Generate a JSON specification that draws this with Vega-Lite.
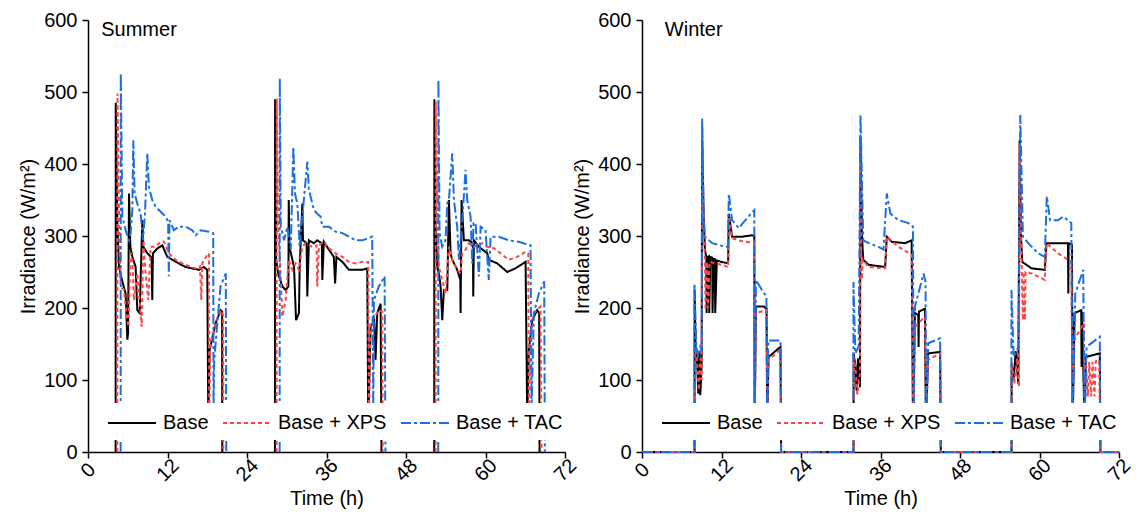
{
"$schema":"https://vega.github.io/schema/vega-lite/v6.json",
"background":"white",
"padding":{"left":18,"top":10,"right":5,"bottom":5},
"spacing":77,
"bounds":"flush",
"config":{
"view":{"stroke":null},
"font":"Liberation Sans",
"axis":{"domainColor":"black","domainWidth":1.5,"tickColor":"black","tickWidth":1.5,"labelColor":"black","labelFontSize":20,"titleFontSize":20,"titleFontWeight":"normal","titleColor":"black","grid":false,"labelFont":"Liberation Sans","titleFont":"Liberation Sans"},
"legend":{"orient":"bottom-left","direction":"horizontal","offset":12,"padding":7,"fillColor":"white","symbolType":"M-1,0H3","symbolSize":576,"symbolStrokeWidth":2,"labelFontSize":20,"labelFont":"Liberation Sans","labelColor":"black","labelOffset":30,"columnPadding":10,"title":null,"zindex":1}
},
"resolve":{"scale":{"color":"independent","strokeDash":"independent"},"legend":{"color":"independent","strokeDash":"independent"}},
"hconcat":[
{"width":477,"height":432,
"layer":[
{"data":{"name":"summer"},"mark":{"type":"line","strokeWidth":2},
"encoding":{
"x":{"field":"t","type":"quantitative","scale":{"domain":[0,72],"nice":false},"axis":{"values":[0,3,6,9,12,15,18,21,24,27,30,33,36,39,42,45,48,51,54,57,60,63,66,69,72],"labelExpr":"datum.value % 12 === 0 ? datum.label : ''","tickSize":{"condition":{"test":"datum.value % 12 === 0","value":6},"value":3},"labelAngle":-45,"labelAlign":"center","labelBaseline":"middle","labelPadding":12,"labelOverlap":false,"labelFlush":false,"title":"Time (h)","titlePadding":4}},
"y":{"field":"v","type":"quantitative","scale":{"domain":[0,600],"nice":false},"axis":{"values":[0,50,100,150,200,250,300,350,400,450,500,550,600],"labelExpr":"datum.value % 100 === 0 ? datum.label : ''","tickSize":{"condition":{"test":"datum.value % 100 === 0","value":6},"value":3},"labelPadding":5,"labelOverlap":false,"labelFlush":false,"title":"Irradiance (W/m²)","titlePadding":5}},
"color":{"field":"series","type":"nominal","scale":{"domain":["Base","Base + XPS","Base + TAC"],"range":["#000000","#FF4646","#1C6FE0"]}},
"strokeDash":{"field":"series","type":"nominal","scale":{"domain":["Base","Base + XPS","Base + TAC"],"range":[[1,0],[4,3],[10,3,3,3]]}},
"detail":{"field":"day","type":"nominal"}
}},
{"data":{"values":[{"label":"Summer"}]},"mark":{"type":"text","align":"left","baseline":"middle","fontSize":20,"font":"Liberation Sans","color":"black"},
"encoding":{"x":{"datum":2.0,"type":"quantitative"},"y":{"datum":586,"type":"quantitative"},"text":{"field":"label"}}}
]},
{"width":477,"height":432,
"layer":[
{"data":{"name":"winter"},"mark":{"type":"line","strokeWidth":2},
"encoding":{
"x":{"field":"t","type":"quantitative","scale":{"domain":[0,72],"nice":false},"axis":{"values":[0,3,6,9,12,15,18,21,24,27,30,33,36,39,42,45,48,51,54,57,60,63,66,69,72],"labelExpr":"datum.value % 12 === 0 ? datum.label : ''","tickSize":{"condition":{"test":"datum.value % 12 === 0","value":6},"value":3},"labelAngle":-45,"labelAlign":"center","labelBaseline":"middle","labelPadding":12,"labelOverlap":false,"labelFlush":false,"title":"Time (h)","titlePadding":4}},
"y":{"field":"v","type":"quantitative","scale":{"domain":[0,600],"nice":false},"axis":{"values":[0,50,100,150,200,250,300,350,400,450,500,550,600],"labelExpr":"datum.value % 100 === 0 ? datum.label : ''","tickSize":{"condition":{"test":"datum.value % 100 === 0","value":6},"value":3},"labelPadding":5,"labelOverlap":false,"labelFlush":false,"title":"Irradiance (W/m²)","titlePadding":5}},
"color":{"field":"series","type":"nominal","scale":{"domain":["Base","Base + XPS","Base + TAC"],"range":["#000000","#FF4646","#1C6FE0"]}},
"strokeDash":{"field":"series","type":"nominal","scale":{"domain":["Base","Base + XPS","Base + TAC"],"range":[[1,0],[4,3],[10,3,3,3]]}}
}},
{"data":{"values":[{"label":"Winter"}]},"mark":{"type":"text","align":"left","baseline":"middle","fontSize":20,"font":"Liberation Sans","color":"black"},
"encoding":{"x":{"datum":3.45,"type":"quantitative"},"y":{"datum":586,"type":"quantitative"},"text":{"field":"label"}}}
]}
],
"datasets":{
"summer":[
{"series":"Base","day":1,"t":4.17,"v":0},{"series":"Base","day":1,"t":4.19,"v":485},{"series":"Base","day":1,"t":4.43,"v":313},{"series":"Base","day":1,"t":4.68,"v":257},{"series":"Base","day":1,"t":5.18,"v":237},{"series":"Base","day":1,"t":5.68,"v":220},{"series":"Base","day":1,"t":5.94,"v":156},{"series":"Base","day":1,"t":6.05,"v":165},{"series":"Base","day":1,"t":6.19,"v":359},{"series":"Base","day":1,"t":6.39,"v":285},{"series":"Base","day":1,"t":6.69,"v":271},{"series":"Base","day":1,"t":7.19,"v":257},{"series":"Base","day":1,"t":7.44,"v":197},{"series":"Base","day":1,"t":7.8,"v":193},{"series":"Base","day":1,"t":8.2,"v":322},{"series":"Base","day":1,"t":8.35,"v":285},{"series":"Base","day":1,"t":8.95,"v":276},{"series":"Base","day":1,"t":9.6,"v":270},{"series":"Base","day":1,"t":9.7,"v":211},{"series":"Base","day":1,"t":9.8,"v":276},{"series":"Base","day":1,"t":10.5,"v":283},{"series":"Base","day":1,"t":11.22,"v":287},{"series":"Base","day":1,"t":11.97,"v":271},{"series":"Base","day":1,"t":12.73,"v":267},{"series":"Base","day":1,"t":13.7,"v":262},{"series":"Base","day":1,"t":14.7,"v":257},{"series":"Base","day":1,"t":15.7,"v":255},{"series":"Base","day":1,"t":16.75,"v":253},{"series":"Base","day":1,"t":17.5,"v":257},{"series":"Base","day":1,"t":18.0,"v":253},{"series":"Base","day":1,"t":18.16,"v":45},{"series":"Base","day":1,"t":18.36,"v":142},{"series":"Base","day":1,"t":19.27,"v":179},{"series":"Base","day":1,"t":20.02,"v":197},{"series":"Base","day":1,"t":20.25,"v":195},{"series":"Base","day":1,"t":20.27,"v":0},
{"series":"Base + XPS","day":1,"t":4.43,"v":0},{"series":"Base + XPS","day":1,"t":4.45,"v":498},{"series":"Base + XPS","day":1,"t":4.68,"v":336},{"series":"Base + XPS","day":1,"t":4.93,"v":230},{"series":"Base + XPS","day":1,"t":5.43,"v":225},{"series":"Base + XPS","day":1,"t":5.78,"v":193},{"series":"Base + XPS","day":1,"t":6.09,"v":174},{"series":"Base + XPS","day":1,"t":6.44,"v":276},{"series":"Base + XPS","day":1,"t":6.69,"v":267},{"series":"Base + XPS","day":1,"t":6.94,"v":211},{"series":"Base + XPS","day":1,"t":7.44,"v":248},{"series":"Base + XPS","day":1,"t":7.7,"v":220},{"series":"Base + XPS","day":1,"t":8.1,"v":174},{"series":"Base + XPS","day":1,"t":8.35,"v":294},{"series":"Base + XPS","day":1,"t":8.7,"v":248},{"series":"Base + XPS","day":1,"t":9.1,"v":211},{"series":"Base + XPS","day":1,"t":9.46,"v":285},{"series":"Base + XPS","day":1,"t":10.2,"v":285},{"series":"Base + XPS","day":1,"t":10.97,"v":292},{"series":"Base + XPS","day":1,"t":11.47,"v":292},{"series":"Base + XPS","day":1,"t":12.2,"v":276},{"series":"Base + XPS","day":1,"t":13.2,"v":267},{"series":"Base + XPS","day":1,"t":14.7,"v":260},{"series":"Base + XPS","day":1,"t":16.25,"v":255},{"series":"Base + XPS","day":1,"t":16.9,"v":258},{"series":"Base + XPS","day":1,"t":17.1,"v":211},{"series":"Base + XPS","day":1,"t":17.25,"v":262},{"series":"Base + XPS","day":1,"t":18.0,"v":274},{"series":"Base + XPS","day":1,"t":18.26,"v":276},{"series":"Base + XPS","day":1,"t":18.3,"v":40},{"series":"Base + XPS","day":1,"t":18.45,"v":150},{"series":"Base + XPS","day":1,"t":19.5,"v":185},{"series":"Base + XPS","day":1,"t":20.1,"v":197},{"series":"Base + XPS","day":1,"t":20.4,"v":190},{"series":"Base + XPS","day":1,"t":20.42,"v":0},
{"series":"Base + TAC","day":1,"t":4.93,"v":0},{"series":"Base + TAC","day":1,"t":4.95,"v":526},{"series":"Base + TAC","day":1,"t":5.18,"v":327},{"series":"Base + TAC","day":1,"t":5.68,"v":308},{"series":"Base + TAC","day":1,"t":6.19,"v":294},{"series":"Base + TAC","day":1,"t":6.44,"v":304},{"series":"Base + TAC","day":1,"t":6.69,"v":336},{"series":"Base + TAC","day":1,"t":6.84,"v":433},{"series":"Base + TAC","day":1,"t":7.04,"v":359},{"series":"Base + TAC","day":1,"t":7.44,"v":345},{"series":"Base + TAC","day":1,"t":7.95,"v":331},{"series":"Base + TAC","day":1,"t":8.3,"v":294},{"series":"Base + TAC","day":1,"t":8.6,"v":331},{"series":"Base + TAC","day":1,"t":8.95,"v":415},{"series":"Base + TAC","day":1,"t":9.2,"v":368},{"series":"Base + TAC","day":1,"t":9.7,"v":350},{"series":"Base + TAC","day":1,"t":10.2,"v":341},{"series":"Base + TAC","day":1,"t":10.7,"v":336},{"series":"Base + TAC","day":1,"t":11.7,"v":327},{"series":"Base + TAC","day":1,"t":12.1,"v":320},{"series":"Base + TAC","day":1,"t":12.2,"v":244},{"series":"Base + TAC","day":1,"t":12.3,"v":322},{"series":"Base + TAC","day":1,"t":12.98,"v":308},{"series":"Base + TAC","day":1,"t":13.7,"v":313},{"series":"Base + TAC","day":1,"t":14.7,"v":313},{"series":"Base + TAC","day":1,"t":15.75,"v":308},{"series":"Base + TAC","day":1,"t":16.25,"v":301},{"series":"Base + TAC","day":1,"t":17.0,"v":308},{"series":"Base + TAC","day":1,"t":18.26,"v":306},{"series":"Base + TAC","day":1,"t":18.9,"v":304},{"series":"Base + TAC","day":1,"t":18.95,"v":60},{"series":"Base + TAC","day":1,"t":19.05,"v":128},{"series":"Base + TAC","day":1,"t":20.0,"v":230},{"series":"Base + TAC","day":1,"t":20.8,"v":248},{"series":"Base + TAC","day":1,"t":20.87,"v":0},
{"series":"Base","day":2,"t":28.22,"v":0},{"series":"Base","day":2,"t":28.24,"v":490},{"series":"Base","day":2,"t":28.4,"v":267},{"series":"Base","day":2,"t":28.7,"v":248},{"series":"Base","day":2,"t":29.33,"v":230},{"series":"Base","day":2,"t":29.83,"v":225},{"series":"Base","day":2,"t":30.25,"v":230},{"series":"Base","day":2,"t":30.3,"v":350},{"series":"Base","day":2,"t":30.4,"v":285},{"series":"Base","day":2,"t":31.1,"v":257},{"series":"Base","day":2,"t":31.4,"v":183},{"series":"Base","day":2,"t":31.84,"v":193},{"series":"Base","day":2,"t":31.95,"v":257},{"series":"Base","day":2,"t":32.35,"v":345},{"series":"Base","day":2,"t":32.45,"v":294},{"series":"Base","day":2,"t":33.0,"v":290},{"series":"Base","day":2,"t":33.1,"v":216},{"series":"Base","day":2,"t":33.35,"v":294},{"series":"Base","day":2,"t":34.1,"v":290},{"series":"Base","day":2,"t":34.6,"v":294},{"series":"Base","day":2,"t":35.3,"v":290},{"series":"Base","day":2,"t":35.37,"v":239},{"series":"Base","day":2,"t":35.6,"v":292},{"series":"Base","day":2,"t":36.37,"v":281},{"series":"Base","day":2,"t":37.1,"v":271},{"series":"Base","day":2,"t":37.3,"v":234},{"series":"Base","day":2,"t":37.5,"v":271},{"series":"Base","day":2,"t":38.4,"v":264},{"series":"Base","day":2,"t":39.4,"v":253},{"series":"Base","day":2,"t":40.4,"v":253},{"series":"Base","day":2,"t":41.4,"v":253},{"series":"Base","day":2,"t":42.15,"v":255},{"series":"Base","day":2,"t":42.3,"v":40},{"series":"Base","day":2,"t":42.66,"v":174},{"series":"Base","day":2,"t":43.2,"v":183},{"series":"Base","day":2,"t":43.4,"v":128},{"series":"Base","day":2,"t":43.66,"v":193},{"series":"Base","day":2,"t":44.17,"v":206},{"series":"Base","day":2,"t":44.3,"v":0},
{"series":"Base + XPS","day":2,"t":28.47,"v":0},{"series":"Base + XPS","day":2,"t":28.49,"v":491},{"series":"Base + XPS","day":2,"t":28.7,"v":313},{"series":"Base + XPS","day":2,"t":29.08,"v":244},{"series":"Base + XPS","day":2,"t":29.33,"v":188},{"series":"Base + XPS","day":2,"t":29.83,"v":211},{"series":"Base + XPS","day":2,"t":30.3,"v":267},{"series":"Base + XPS","day":2,"t":30.84,"v":253},{"series":"Base + XPS","day":2,"t":31.34,"v":262},{"series":"Base + XPS","day":2,"t":31.84,"v":253},{"series":"Base + XPS","day":2,"t":32.35,"v":285},{"series":"Base + XPS","day":2,"t":32.85,"v":290},{"series":"Base + XPS","day":2,"t":33.85,"v":285},{"series":"Base + XPS","day":2,"t":34.5,"v":287},{"series":"Base + XPS","day":2,"t":34.6,"v":230},{"series":"Base + XPS","day":2,"t":34.86,"v":287},{"series":"Base + XPS","day":2,"t":35.6,"v":292},{"series":"Base + XPS","day":2,"t":36.37,"v":283},{"series":"Base + XPS","day":2,"t":37.38,"v":276},{"series":"Base + XPS","day":2,"t":38.4,"v":271},{"series":"Base + XPS","day":2,"t":39.4,"v":264},{"series":"Base + XPS","day":2,"t":40.4,"v":262},{"series":"Base + XPS","day":2,"t":41.4,"v":264},{"series":"Base + XPS","day":2,"t":42.3,"v":264},{"series":"Base + XPS","day":2,"t":42.4,"v":40},{"series":"Base + XPS","day":2,"t":42.66,"v":179},{"series":"Base + XPS","day":2,"t":43.9,"v":197},{"series":"Base + XPS","day":2,"t":44.4,"v":195},{"series":"Base + XPS","day":2,"t":44.5,"v":0},
{"series":"Base + TAC","day":2,"t":28.93,"v":0},{"series":"Base + TAC","day":2,"t":28.95,"v":519},{"series":"Base + TAC","day":2,"t":29.1,"v":313},{"series":"Base + TAC","day":2,"t":29.6,"v":294},{"series":"Base + TAC","day":2,"t":30.1,"v":313},{"series":"Base + TAC","day":2,"t":30.6,"v":281},{"series":"Base + TAC","day":2,"t":31.0,"v":424},{"series":"Base + TAC","day":2,"t":31.24,"v":359},{"series":"Base + TAC","day":2,"t":31.6,"v":345},{"series":"Base + TAC","day":2,"t":31.95,"v":285},{"series":"Base + TAC","day":2,"t":32.35,"v":327},{"series":"Base + TAC","day":2,"t":33.1,"v":403},{"series":"Base + TAC","day":2,"t":33.35,"v":364},{"series":"Base + TAC","day":2,"t":34.1,"v":336},{"series":"Base + TAC","day":2,"t":34.6,"v":331},{"series":"Base + TAC","day":2,"t":35.1,"v":327},{"series":"Base + TAC","day":2,"t":35.37,"v":313},{"series":"Base + TAC","day":2,"t":36.37,"v":313},{"series":"Base + TAC","day":2,"t":37.38,"v":306},{"series":"Base + TAC","day":2,"t":38.4,"v":304},{"series":"Base + TAC","day":2,"t":39.4,"v":299},{"series":"Base + TAC","day":2,"t":40.4,"v":294},{"series":"Base + TAC","day":2,"t":41.4,"v":294},{"series":"Base + TAC","day":2,"t":42.9,"v":299},{"series":"Base + TAC","day":2,"t":43.06,"v":60},{"series":"Base + TAC","day":2,"t":43.16,"v":211},{"series":"Base + TAC","day":2,"t":43.9,"v":230},{"series":"Base + TAC","day":2,"t":44.77,"v":244},{"series":"Base + TAC","day":2,"t":44.9,"v":0},
{"series":"Base","day":3,"t":52.26,"v":0},{"series":"Base","day":3,"t":52.28,"v":490},{"series":"Base","day":3,"t":52.47,"v":313},{"series":"Base","day":3,"t":52.72,"v":257},{"series":"Base","day":3,"t":52.97,"v":248},{"series":"Base","day":3,"t":53.22,"v":230},{"series":"Base","day":3,"t":53.47,"v":183},{"series":"Base","day":3,"t":53.72,"v":225},{"series":"Base","day":3,"t":54.23,"v":225},{"series":"Base","day":3,"t":54.48,"v":350},{"series":"Base","day":3,"t":54.73,"v":276},{"series":"Base","day":3,"t":54.98,"v":267},{"series":"Base","day":3,"t":55.73,"v":253},{"series":"Base","day":3,"t":56.2,"v":239},{"series":"Base","day":3,"t":56.24,"v":193},{"series":"Base","day":3,"t":56.39,"v":350},{"series":"Base","day":3,"t":56.74,"v":294},{"series":"Base","day":3,"t":57.5,"v":294},{"series":"Base","day":3,"t":58.1,"v":290},{"series":"Base","day":3,"t":58.15,"v":216},{"series":"Base","day":3,"t":58.25,"v":294},{"series":"Base","day":3,"t":59.0,"v":285},{"series":"Base","day":3,"t":60.26,"v":276},{"series":"Base","day":3,"t":60.5,"v":267},{"series":"Base","day":3,"t":61.77,"v":262},{"series":"Base","day":3,"t":63.28,"v":250},{"series":"Base","day":3,"t":64.5,"v":255},{"series":"Base","day":3,"t":66.05,"v":264},{"series":"Base","day":3,"t":66.3,"v":45},{"series":"Base","day":3,"t":66.55,"v":142},{"series":"Base","day":3,"t":67.05,"v":183},{"series":"Base","day":3,"t":67.8,"v":197},{"series":"Base","day":3,"t":68.1,"v":193},{"series":"Base","day":3,"t":68.16,"v":0},
{"series":"Base + XPS","day":3,"t":52.47,"v":0},{"series":"Base + XPS","day":3,"t":52.49,"v":487},{"series":"Base + XPS","day":3,"t":52.72,"v":336},{"series":"Base + XPS","day":3,"t":52.97,"v":257},{"series":"Base + XPS","day":3,"t":53.47,"v":239},{"series":"Base + XPS","day":3,"t":53.97,"v":220},{"series":"Base + XPS","day":3,"t":54.48,"v":285},{"series":"Base + XPS","day":3,"t":54.98,"v":267},{"series":"Base + XPS","day":3,"t":55.73,"v":253},{"series":"Base + XPS","day":3,"t":56.24,"v":248},{"series":"Base + XPS","day":3,"t":56.5,"v":276},{"series":"Base + XPS","day":3,"t":57.0,"v":281},{"series":"Base + XPS","day":3,"t":57.5,"v":290},{"series":"Base + XPS","day":3,"t":58.25,"v":285},{"series":"Base + XPS","day":3,"t":59.5,"v":290},{"series":"Base + XPS","day":3,"t":60.26,"v":285},{"series":"Base + XPS","day":3,"t":61.27,"v":283},{"series":"Base + XPS","day":3,"t":62.27,"v":276},{"series":"Base + XPS","day":3,"t":63.5,"v":267},{"series":"Base + XPS","day":3,"t":64.8,"v":271},{"series":"Base + XPS","day":3,"t":66.05,"v":278},{"series":"Base + XPS","day":3,"t":66.45,"v":276},{"series":"Base + XPS","day":3,"t":66.55,"v":40},{"series":"Base + XPS","day":3,"t":66.8,"v":151},{"series":"Base + XPS","day":3,"t":67.3,"v":193},{"series":"Base + XPS","day":3,"t":68.3,"v":202},{"series":"Base + XPS","day":3,"t":68.46,"v":0},
{"series":"Base + TAC","day":3,"t":52.87,"v":0},{"series":"Base + TAC","day":3,"t":52.89,"v":517},{"series":"Base + TAC","day":3,"t":53.07,"v":304},{"series":"Base + TAC","day":3,"t":53.47,"v":285},{"series":"Base + TAC","day":3,"t":53.97,"v":294},{"series":"Base + TAC","day":3,"t":54.22,"v":345},{"series":"Base + TAC","day":3,"t":54.48,"v":350},{"series":"Base + TAC","day":3,"t":54.98,"v":415},{"series":"Base + TAC","day":3,"t":55.23,"v":350},{"series":"Base + TAC","day":3,"t":55.73,"v":313},{"series":"Base + TAC","day":3,"t":55.99,"v":267},{"series":"Base + TAC","day":3,"t":56.5,"v":322},{"series":"Base + TAC","day":3,"t":56.99,"v":392},{"series":"Base + TAC","day":3,"t":57.24,"v":350},{"series":"Base + TAC","day":3,"t":57.75,"v":327},{"series":"Base + TAC","day":3,"t":58.0,"v":262},{"series":"Base + TAC","day":3,"t":58.2,"v":318},{"series":"Base + TAC","day":3,"t":58.5,"v":318},{"series":"Base + TAC","day":3,"t":59.0,"v":244},{"series":"Base + TAC","day":3,"t":59.26,"v":313},{"series":"Base + TAC","day":3,"t":60.0,"v":308},{"series":"Base + TAC","day":3,"t":60.5,"v":239},{"series":"Base + TAC","day":3,"t":60.77,"v":299},{"series":"Base + TAC","day":3,"t":62.0,"v":299},{"series":"Base + TAC","day":3,"t":63.5,"v":294},{"series":"Base + TAC","day":3,"t":65.0,"v":292},{"series":"Base + TAC","day":3,"t":66.8,"v":287},{"series":"Base + TAC","day":3,"t":66.95,"v":60},{"series":"Base + TAC","day":3,"t":67.3,"v":193},{"series":"Base + TAC","day":3,"t":68.06,"v":220},{"series":"Base + TAC","day":3,"t":68.86,"v":237},{"series":"Base + TAC","day":3,"t":68.96,"v":0}
],
"winter":[
{"series":"Base","t":0,"v":0},{"series":"Base","t":7.93,"v":0},{"series":"Base","t":7.95,"v":225},{"series":"Base","t":8.1,"v":137},{"series":"Base","t":8.3,"v":130},{"series":"Base","t":8.5,"v":81},{"series":"Base","t":8.65,"v":140},{"series":"Base","t":8.8,"v":79},{"series":"Base","t":9.0,"v":120},{"series":"Base","t":9.08,"v":433},{"series":"Base","t":9.3,"v":330},{"series":"Base","t":9.5,"v":281},{"series":"Base","t":9.7,"v":271},{"series":"Base","t":9.75,"v":193},{"series":"Base","t":9.9,"v":271},{"series":"Base","t":10.1,"v":272},{"series":"Base","t":10.15,"v":193},{"series":"Base","t":10.3,"v":271},{"series":"Base","t":10.6,"v":270},{"series":"Base","t":10.65,"v":193},{"series":"Base","t":10.8,"v":268},{"series":"Base","t":11.0,"v":268},{"series":"Base","t":11.05,"v":193},{"series":"Base","t":11.3,"v":266},{"series":"Base","t":12.0,"v":264},{"series":"Base","t":13.0,"v":262},{"series":"Base","t":13.1,"v":331},{"series":"Base","t":13.6,"v":299},{"series":"Base","t":15.1,"v":299},{"series":"Base","t":16.6,"v":301},{"series":"Base","t":16.95,"v":300},{"series":"Base","t":17.0,"v":40},{"series":"Base","t":17.2,"v":202},{"series":"Base","t":18.4,"v":202},{"series":"Base","t":18.8,"v":199},{"series":"Base","t":18.9,"v":40},{"series":"Base","t":19.1,"v":132},{"series":"Base","t":20.9,"v":146},{"series":"Base","t":21.0,"v":0},{"series":"Base","t":31.93,"v":0},{"series":"Base","t":31.95,"v":137},{"series":"Base","t":32.2,"v":120},{"series":"Base","t":32.4,"v":85},{"series":"Base","t":32.6,"v":130},{"series":"Base","t":32.9,"v":90},{"series":"Base","t":32.98,"v":438},{"series":"Base","t":33.2,"v":300},{"series":"Base","t":33.4,"v":267},{"series":"Base","t":34.2,"v":260},{"series":"Base","t":36.7,"v":257},{"series":"Base","t":36.95,"v":299},{"series":"Base","t":37.7,"v":292},{"series":"Base","t":39.7,"v":290},{"series":"Base","t":40.7,"v":294},{"series":"Base","t":40.9,"v":40},{"series":"Base","t":41.2,"v":193},{"series":"Base","t":41.7,"v":190},{"series":"Base","t":41.75,"v":146},{"series":"Base","t":41.8,"v":195},{"series":"Base","t":42.7,"v":199},{"series":"Base","t":42.85,"v":40},{"series":"Base","t":43.2,"v":137},{"series":"Base","t":45.0,"v":139},{"series":"Base","t":45.1,"v":0},{"series":"Base","t":55.78,"v":0},{"series":"Base","t":55.8,"v":123},{"series":"Base","t":56.1,"v":100},{"series":"Base","t":56.4,"v":140},{"series":"Base","t":56.8,"v":95},{"series":"Base","t":57.0,"v":433},{"series":"Base","t":57.2,"v":300},{"series":"Base","t":57.4,"v":264},{"series":"Base","t":58.8,"v":255},{"series":"Base","t":60.8,"v":253},{"series":"Base","t":61.05,"v":290},{"series":"Base","t":64.3,"v":290},{"series":"Base","t":64.35,"v":220},{"series":"Base","t":64.4,"v":290},{"series":"Base","t":64.9,"v":288},{"series":"Base","t":65.0,"v":40},{"series":"Base","t":65.3,"v":193},{"series":"Base","t":66.3,"v":197},{"series":"Base","t":66.35,"v":118},{"series":"Base","t":66.4,"v":195},{"series":"Base","t":66.8,"v":40},{"series":"Base","t":67.0,"v":132},{"series":"Base","t":69.1,"v":137},{"series":"Base","t":69.2,"v":0},{"series":"Base","t":72,"v":0},
{"series":"Base + XPS","t":0,"v":0},{"series":"Base + XPS","t":7.95,"v":0},{"series":"Base + XPS","t":7.97,"v":146},{"series":"Base + XPS","t":8.3,"v":128},{"series":"Base + XPS","t":8.6,"v":86},{"series":"Base + XPS","t":8.8,"v":130},{"series":"Base + XPS","t":9.0,"v":100},{"series":"Base + XPS","t":9.08,"v":452},{"series":"Base + XPS","t":9.3,"v":320},{"series":"Base + XPS","t":9.5,"v":267},{"series":"Base + XPS","t":9.6,"v":197},{"series":"Base + XPS","t":9.8,"v":264},{"series":"Base + XPS","t":10.0,"v":200},{"series":"Base + XPS","t":10.2,"v":264},{"series":"Base + XPS","t":12.0,"v":260},{"series":"Base + XPS","t":13.0,"v":257},{"series":"Base + XPS","t":13.1,"v":327},{"series":"Base + XPS","t":13.6,"v":297},{"series":"Base + XPS","t":15.0,"v":293},{"series":"Base + XPS","t":16.9,"v":290},{"series":"Base + XPS","t":17.02,"v":40},{"series":"Base + XPS","t":17.2,"v":193},{"series":"Base + XPS","t":18.8,"v":197},{"series":"Base + XPS","t":18.92,"v":40},{"series":"Base + XPS","t":19.1,"v":128},{"series":"Base + XPS","t":20.9,"v":142},{"series":"Base + XPS","t":21.02,"v":0},{"series":"Base + XPS","t":31.95,"v":0},{"series":"Base + XPS","t":31.97,"v":132},{"series":"Base + XPS","t":32.3,"v":110},{"series":"Base + XPS","t":32.5,"v":80},{"series":"Base + XPS","t":32.9,"v":110},{"series":"Base + XPS","t":32.98,"v":433},{"series":"Base + XPS","t":33.1,"v":267},{"series":"Base + XPS","t":33.2,"v":240},{"series":"Base + XPS","t":33.3,"v":267},{"series":"Base + XPS","t":34.2,"v":257},{"series":"Base + XPS","t":36.7,"v":255},{"series":"Base + XPS","t":36.95,"v":299},{"series":"Base + XPS","t":38.7,"v":285},{"series":"Base + XPS","t":40.7,"v":274},{"series":"Base + XPS","t":40.95,"v":40},{"series":"Base + XPS","t":41.2,"v":174},{"series":"Base + XPS","t":42.7,"v":188},{"series":"Base + XPS","t":42.9,"v":40},{"series":"Base + XPS","t":43.2,"v":128},{"series":"Base + XPS","t":45.0,"v":137},{"series":"Base + XPS","t":45.12,"v":0},{"series":"Base + XPS","t":55.8,"v":0},{"series":"Base + XPS","t":55.82,"v":123},{"series":"Base + XPS","t":56.2,"v":95},{"series":"Base + XPS","t":56.6,"v":130},{"series":"Base + XPS","t":56.9,"v":90},{"series":"Base + XPS","t":57.0,"v":429},{"series":"Base + XPS","t":57.3,"v":257},{"series":"Base + XPS","t":57.5,"v":183},{"series":"Base + XPS","t":57.6,"v":250},{"series":"Base + XPS","t":57.8,"v":183},{"series":"Base + XPS","t":57.9,"v":250},{"series":"Base + XPS","t":58.8,"v":248},{"series":"Base + XPS","t":60.8,"v":239},{"series":"Base + XPS","t":61.05,"v":290},{"series":"Base + XPS","t":62.8,"v":276},{"series":"Base + XPS","t":64.8,"v":264},{"series":"Base + XPS","t":65.0,"v":40},{"series":"Base + XPS","t":65.2,"v":155},{"series":"Base + XPS","t":66.7,"v":179},{"series":"Base + XPS","t":66.82,"v":40},{"series":"Base + XPS","t":67.0,"v":123},{"series":"Base + XPS","t":67.3,"v":77},{"series":"Base + XPS","t":67.5,"v":125},{"series":"Base + XPS","t":67.8,"v":77},{"series":"Base + XPS","t":68.0,"v":125},{"series":"Base + XPS","t":68.3,"v":77},{"series":"Base + XPS","t":68.5,"v":126},{"series":"Base + XPS","t":69.0,"v":128},{"series":"Base + XPS","t":69.18,"v":0},{"series":"Base + XPS","t":72,"v":0},
{"series":"Base + TAC","t":0,"v":0},{"series":"Base + TAC","t":7.9,"v":0},{"series":"Base + TAC","t":7.92,"v":234},{"series":"Base + TAC","t":8.2,"v":146},{"series":"Base + TAC","t":8.5,"v":132},{"series":"Base + TAC","t":8.8,"v":146},{"series":"Base + TAC","t":9.05,"v":140},{"series":"Base + TAC","t":9.08,"v":463},{"series":"Base + TAC","t":9.3,"v":330},{"series":"Base + TAC","t":9.5,"v":299},{"series":"Base + TAC","t":10.6,"v":290},{"series":"Base + TAC","t":12.6,"v":285},{"series":"Base + TAC","t":13.0,"v":285},{"series":"Base + TAC","t":13.1,"v":359},{"series":"Base + TAC","t":13.6,"v":322},{"series":"Base + TAC","t":14.6,"v":311},{"series":"Base + TAC","t":15.6,"v":322},{"series":"Base + TAC","t":16.95,"v":336},{"series":"Base + TAC","t":17.0,"v":40},{"series":"Base + TAC","t":17.2,"v":239},{"series":"Base + TAC","t":18.1,"v":225},{"series":"Base + TAC","t":18.78,"v":216},{"series":"Base + TAC","t":18.88,"v":40},{"series":"Base + TAC","t":19.05,"v":155},{"series":"Base + TAC","t":20.9,"v":155},{"series":"Base + TAC","t":20.98,"v":0},{"series":"Base + TAC","t":31.9,"v":0},{"series":"Base + TAC","t":31.92,"v":236},{"series":"Base + TAC","t":32.2,"v":137},{"series":"Base + TAC","t":32.7,"v":146},{"series":"Base + TAC","t":32.98,"v":468},{"series":"Base + TAC","t":33.4,"v":294},{"series":"Base + TAC","t":34.2,"v":290},{"series":"Base + TAC","t":35.7,"v":285},{"series":"Base + TAC","t":36.45,"v":281},{"series":"Base + TAC","t":36.95,"v":359},{"series":"Base + TAC","t":37.5,"v":331},{"series":"Base + TAC","t":38.7,"v":322},{"series":"Base + TAC","t":40.2,"v":318},{"series":"Base + TAC","t":40.9,"v":313},{"series":"Base + TAC","t":41.0,"v":40},{"series":"Base + TAC","t":41.2,"v":202},{"series":"Base + TAC","t":42.5,"v":248},{"series":"Base + TAC","t":42.8,"v":236},{"series":"Base + TAC","t":42.9,"v":40},{"series":"Base + TAC","t":43.2,"v":151},{"series":"Base + TAC","t":45.0,"v":158},{"series":"Base + TAC","t":45.08,"v":0},{"series":"Base + TAC","t":55.75,"v":0},{"series":"Base + TAC","t":55.77,"v":225},{"series":"Base + TAC","t":56.1,"v":132},{"series":"Base + TAC","t":56.8,"v":146},{"series":"Base + TAC","t":57.1,"v":468},{"series":"Base + TAC","t":57.5,"v":299},{"series":"Base + TAC","t":58.3,"v":290},{"series":"Base + TAC","t":59.8,"v":276},{"series":"Base + TAC","t":60.8,"v":271},{"series":"Base + TAC","t":61.1,"v":355},{"series":"Base + TAC","t":61.6,"v":322},{"series":"Base + TAC","t":62.8,"v":322},{"series":"Base + TAC","t":63.6,"v":327},{"series":"Base + TAC","t":64.8,"v":318},{"series":"Base + TAC","t":65.0,"v":40},{"series":"Base + TAC","t":65.4,"v":220},{"series":"Base + TAC","t":66.6,"v":253},{"series":"Base + TAC","t":66.8,"v":40},{"series":"Base + TAC","t":67.1,"v":146},{"series":"Base + TAC","t":69.1,"v":160},{"series":"Base + TAC","t":69.18,"v":0},{"series":"Base + TAC","t":72,"v":0}
]
}
}
